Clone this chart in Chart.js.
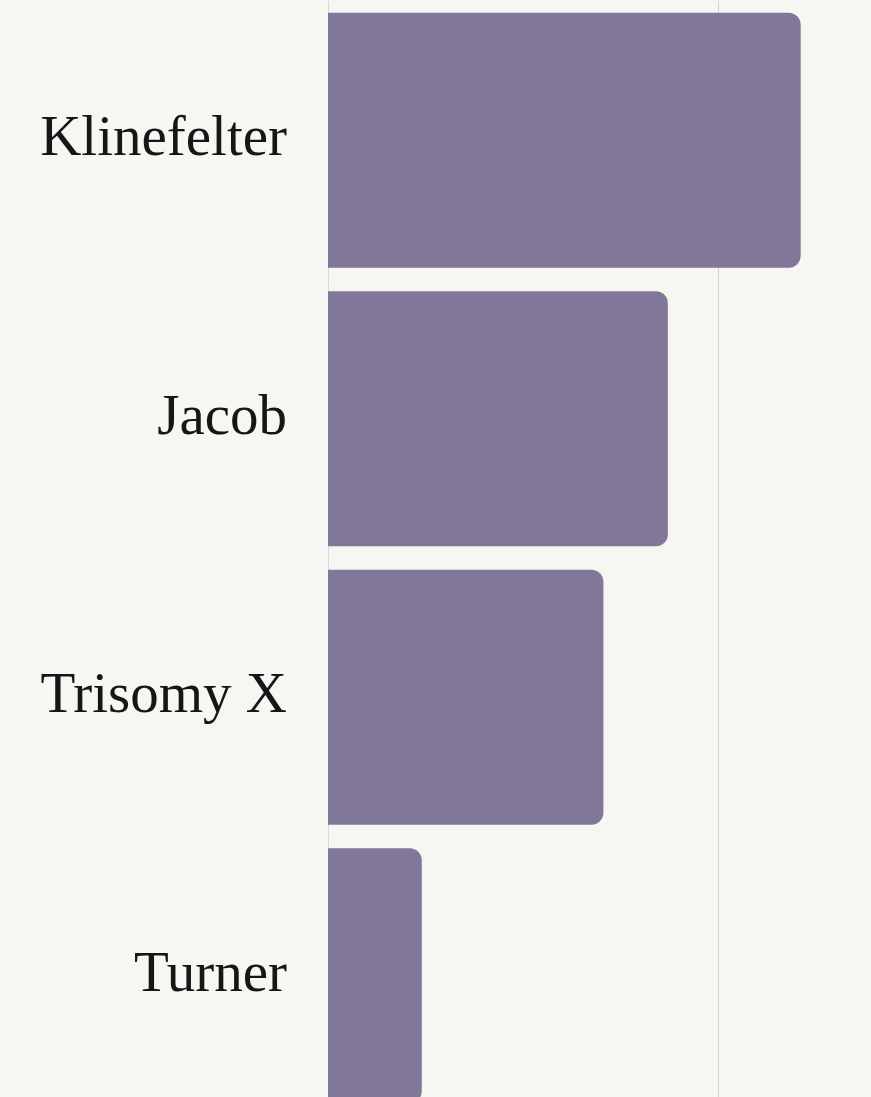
<!DOCTYPE html>
<html>
<head>
<meta charset="utf-8">
<script src="https://cdn.jsdelivr.net/npm/chart.js@4"></script>
<style>
  html, body { margin: 0; padding: 0; background: #f6f6f2; overflow: hidden; }
  #wrap { width: 871px; height: 1115px; position: relative; }
</style>
</head>
<body>
<div id="wrap"><canvas id="bars"></canvas></div>
<script>
// syndromes, relative frequency (gridline = 1)
const syndromes = ["Klinefelter", "Jacob", "Trisomy X", "Turner"];
const frequency = [1.21, 0.87, 0.705, 0.24];
const gridTicks = [1];

new Chart(document.getElementById("bars"), {
  type: 'bar',
  data: {
    labels: syndromes,
    datasets: [{
      data: frequency,
      backgroundColor: "#807799",
      borderRadius: { topRight: 12, bottomRight: 12, topLeft: 0, bottomLeft: 0 },
      borderSkipped: false,
      barPercentage: 0.915,
      categoryPercentage: 1
    }]
  },
  options: {
    indexAxis: 'y',
    responsive: true,
    maintainAspectRatio: false,
    animation: false,
    layout: { padding: { top: 1, right: 0, bottom: 0, left: 0 } },
    plugins: { legend: { display: false }, tooltip: { enabled: false } },
    scales: {
      x: {
        min: 0,
        max: 1.39,
        afterBuildTicks: s => { s.ticks = gridTicks.map(v => ({ value: v })); },
        afterFit: s => { s.height = 0; s.paddingLeft = 0; s.paddingRight = 0; },
        ticks: { display: false },
        border: { display: false },
        grid: { color: "#d2d2ce", lineWidth: 1, drawTicks: false }
      },
      y: {
        afterFit: s => { s.width = 328; s.paddingTop = 0; s.paddingBottom = 0; },
        grid: { display: false, drawTicks: false },
        border: { display: true, color: "#d8d8d4", width: 1 },
        ticks: {
          color: "#161616",
          padding: 41,
          font: { family: "'Liberation Serif', serif", size: 57 }
        }
      }
    }
  }
});
</script>
</body>
</html>
